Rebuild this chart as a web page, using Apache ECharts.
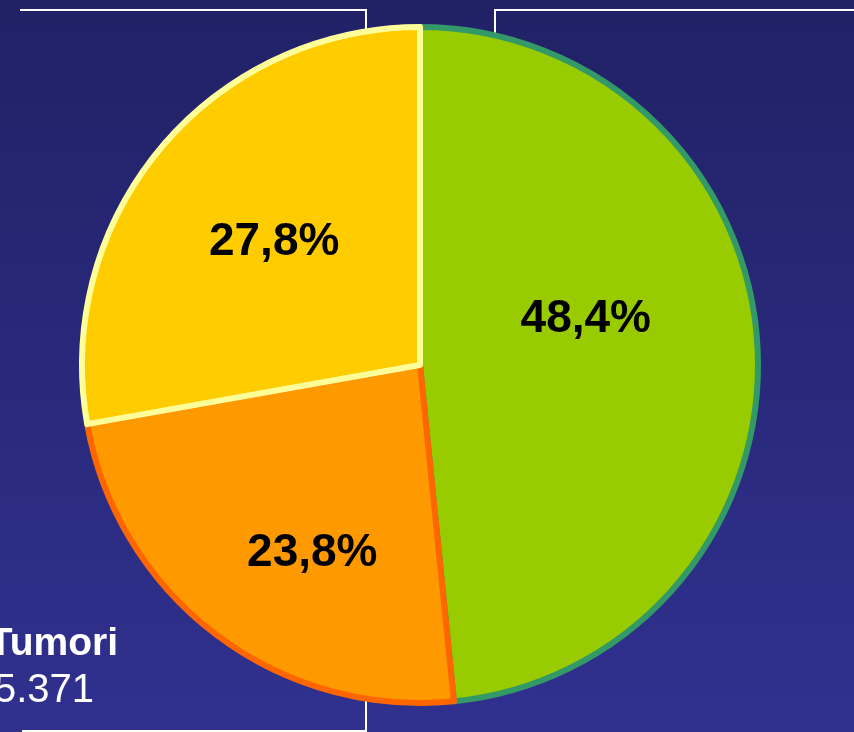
<!DOCTYPE html>
<html>
<head>
<meta charset="utf-8">
<script src="https://cdn.jsdelivr.net/npm/echarts@6/dist/echarts.min.js"></script>
<style>
html,body{margin:0;padding:0;}
#chart{width:854px;height:732px;}
</style>
</head>
<body>
<div id="chart"></div>
<script>
// Data
const categories = ['Gruppo A', 'Tumori', 'Gruppo B'];
const values = [48.4, 23.8, 27.8];
const counts = ['', '5.371', ''];
const fillColors = ['#99cc00', '#ff9900', '#ffcc00'];
const borderColors = ['#339966', '#ff6600', '#ffff99'];
// label offsets from default inner position (styling)
const labelOffsets = [[-6, -37], [-4, 51], [-14, -12]];

const fmt = v => v.toFixed(1).replace('.', ',') + '%';

const labelStyle = {
  color: '#000000',
  fontFamily: 'Liberation Sans',
  fontWeight: 'bold',
  fontSize: 46
};

const chart = echarts.init(document.getElementById('chart'));

const pieData = categories.map((c, i) => ({
  name: c,
  value: values[i],
  itemStyle: { color: fillColors[i], borderColor: borderColors[i], borderWidth: 6 },
  label: Object.assign({ offset: labelOffsets[i] }, labelStyle)
}));

const lineStyle = { stroke: '#ffffff', lineWidth: 2, fill: null };

chart.setOption({
  animation: false,
  backgroundColor: new echarts.graphic.LinearGradient(0, 0, 0, 1, [
    { offset: 0, color: '#212166' },
    { offset: 1, color: '#30318f' }
  ]),
  series: [{
    type: 'pie',
    center: [420, 365],
    radius: [0, 338],
    startAngle: 90,
    clockwise: true,
    silent: true,
    avoidLabelOverlap: false,
    label: Object.assign({
      show: true,
      position: 'inside',
      formatter: p => fmt(p.value)
    }, labelStyle),
    labelLine: { show: false },
    data: pieData
  }],
  graphic: [
    { type: 'polyline', shape: { points: [[20, 10], [366, 10], [366, 85]] }, style: lineStyle },
    { type: 'polyline', shape: { points: [[495, 85], [495, 10], [860, 10]] }, style: lineStyle },
    { type: 'polyline', shape: { points: [[366, 657], [366, 731], [22, 731]] }, style: lineStyle },
    { type: 'text', x: 118, y: 644, style: {
        text: categories[1], fill: '#ffffff', font: 'bold 39px "Liberation Sans"',
        align: 'right', verticalAlign: 'middle' } },
    { type: 'text', x: 94, y: 691, style: {
        text: counts[1], fill: '#ffffff', font: '40px "Liberation Sans"',
        align: 'right', verticalAlign: 'middle' } }
  ]
});
</script>
</body>
</html>
